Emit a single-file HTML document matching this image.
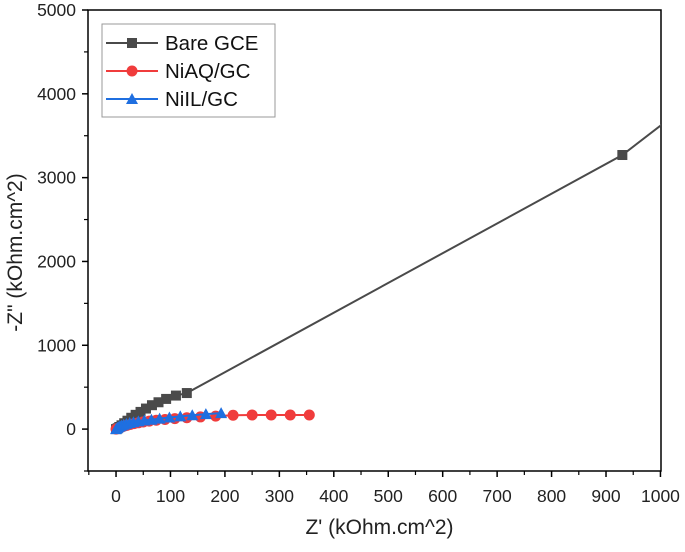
<!DOCTYPE html>
<html><head><meta charset="utf-8"><style>
body{margin:0;background:#fff;font-family:"Liberation Sans",Arial,sans-serif}
</style></head><body>
<svg id="chart" width="685" height="547" xmlns="http://www.w3.org/2000/svg" font-family="Liberation Sans, Arial, sans-serif">
</svg>
<script>
const xTicks=[0,100,200,300,400,500,600,700,800,900,1000];
const yTicks=[0,1000,2000,3000,4000,5000];
const bareX=[0,3,6,10,15,21,28,36,45,55,66,78,92,110,130,930,1060];
const bareY=[0,10,25,45,70,100,135,170,205,245,285,320,360,400,430,3270,3920];
const niaqX=[0,2,4,6,9,12,16,20,26,33,41,50,61,74,90,108,130,155,183,215,250,285,320,355];
const niaqY=[0,5,10,15,22,30,38,45,55,65,75,85,95,105,115,125,135,145,155,165,168,168,168,168];
const niilX=[0,2,4,7,10,14,19,25,32,41,52,65,80,98,118,140,165,193];
const niilY=[0,12,22,32,42,52,62,72,82,92,102,112,125,138,152,165,178,190];
const svg=document.getElementById('chart');
const NS='http://www.w3.org/2000/svg';
const L=88,R=661,T=10,B=471,xMin=-51.5,xMax=1001,yMin=-500,yMax=5000;
const sx=v=>L+(v-xMin)/(xMax-xMin)*(R-L);
const sy=v=>B-(v-yMin)/(yMax-yMin)*(B-T);
function mk(tag,attrs,parent){const e=document.createElementNS(NS,tag);for(const k in attrs)e.setAttribute(k,attrs[k]);(parent||svg).appendChild(e);return e;}
const defs=mk('defs',{});const cp=mk('clipPath',{id:'c'},defs);mk('rect',{x:L,y:T,width:R-L,height:B-T},cp);
const frame=mk('rect',{x:L,y:T,width:R-L,height:B-T,fill:'none',stroke:'#000','stroke-width':1.5});

xTicks.forEach((v,i)=>{const x=sx(v);
 const t=mk('line',{x1:x,x2:x,y1:B,y2:B+6,stroke:'#000','stroke-width':1.5});
 const m=mk('line',{x1:sx(v+50),x2:sx(v+50),y1:B,y2:B+4,stroke:'#000','stroke-width':1.2});
 const l=mk('text',{x:x,y:B+31,'text-anchor':'middle','font-size':17.5,fill:'#222'});l.textContent=v;});
{const m=mk('line',{x1:sx(-50),x2:sx(-50),y1:B,y2:B+4,stroke:'#000','stroke-width':1.2});}
yTicks.forEach(v=>{const y=sy(v);
 const t=mk('line',{x1:L-6,x2:L,y1:y,y2:y,stroke:'#000','stroke-width':1.5});
 const m=mk('line',{x1:L-4,x2:L,y1:sy(v-500),y2:sy(v-500),stroke:'#000','stroke-width':1.2});
 const l=mk('text',{x:L-12,y:y+6,'text-anchor':'end','font-size':17.5,fill:'#222'});l.textContent=v;});
const xt=mk('text',{x:(L+R)/2+5,y:534,'text-anchor':'middle','font-size':21,fill:'#222'});xt.textContent="Z' (kOhm.cm^2)";
const yt=mk('text',{x:0,y:0,'text-anchor':'middle','font-size':21,fill:'#222',transform:`translate(22,${(T+B)/2+12}) rotate(-90)`});yt.textContent='-Z" (kOhm.cm^2)';
function marker(g,type,x,y,c){
 if(type==='sq')return mk('rect',{x:x-5,y:y-5,width:10,height:10,fill:c},g);
 if(type==='ci')return mk('circle',{cx:x,cy:y,r:5.5,fill:c},g);
 return mk('polygon',{points:`${x},${y-6} ${x+6},${y+5} ${x-6},${y+5}`,fill:c},g);}
function series(name,xs,ys,c,type,markN){
 const g=mk('g',{'clip-path':'url(#c)'});
 const p=mk('polyline',{points:xs.map((x,i)=>sx(x)+','+sy(ys[i])).join(' '),fill:'none',stroke:c,'stroke-width':2},g);
 
 xs.forEach((x,i)=>{if(i>=markN)return;const m=marker(g,type,sx(x),sy(ys[i]),c);});}
series('bare-gce-series',bareX,bareY,'#4a4a4a','sq',bareX.length-1);
series('niaq-gc-series',niaqX,niaqY,'#f03c3c','ci',niaqX.length);
series('niil-gc-series',niilX,niilY,'#1f6fe0','tr',niilX.length);
const lg=mk('g',{});
mk('rect',{x:102,y:24,width:173,height:93,fill:'#fff',stroke:'#999','stroke-width':1},lg);
[['Bare GCE','#4a4a4a','sq'],['NiAQ/GC','#f03c3c','ci'],['NiIL/GC','#1f6fe0','tr']].forEach((d,i)=>{
 const y=43+i*28;const e=mk('g',{},lg);
 mk('line',{x1:106,x2:158,y1:y,y2:y,stroke:d[1],'stroke-width':2},e);marker(e,d[2],132,y,d[1]);
 const t=mk('text',{x:165,y:y+7,'font-size':20.5,fill:'#111'},e);t.textContent=d[0];});
</script>
</body></html>
